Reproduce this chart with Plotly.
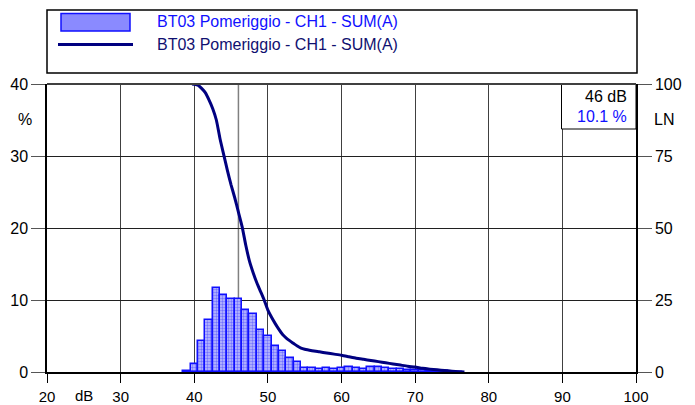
import plotly.graph_objects as go

# ---- data ----
bin_db = [39, 40, 41, 42, 43, 44, 45, 46, 47, 48, 49, 50, 51, 52, 53, 54,
          55, 56, 57, 58, 59, 60, 61, 62, 63, 64, 65, 66, 67, 68, 69, 70,
          71, 72, 73, 74, 75, 76]
bin_pct = [0.1, 1.07, 4.35, 7.2, 11.6, 10.7, 10.2, 10.1, 8.6, 8.0, 5.8, 5.05, 3.6, 2.96, 1.9, 1.4,
           0.6, 0.5, 0.4, 0.5, 0.4, 0.6, 0.75, 0.5, 0.4, 0.65, 0.65, 0.5, 0.35, 0.35, 0.3, 0.3,
           0.25, 0.2, 0.15, 0.1, 0.05, 0.05]

ln_db = [39.7, 40, 40.5, 41, 41.5, 42, 42.5, 43, 43.5, 44, 44.5, 45, 45.5, 46, 46.5, 47,
         47.5, 48, 48.5, 49, 49.5, 50, 50.5, 51, 51.5, 52, 52.5, 53, 53.5, 54, 54.5, 55,
         56, 57, 58, 59, 60, 61, 62, 63, 64, 65, 66, 67, 68, 69, 70, 71, 72, 73, 74, 75, 76, 76.7]
ln_val = [100, 99.9, 99.6, 98.5, 97, 94.5, 91.5, 87.5, 81, 75.5, 70, 65, 60.5, 55.5, 50.5, 44,
          38.5, 34.5, 31, 28, 25, 21.5, 19, 16.8, 14.8, 13, 11.8, 10.8, 9.9, 9.0, 8.3, 7.9,
          7.4, 7.0, 6.6, 6.2, 5.8, 5.3, 4.8, 4.4, 4.0, 3.6, 3.2, 2.8, 2.4, 2.0, 1.7, 1.3, 1.0, 0.75, 0.5, 0.3, 0.1, 0.0]

x_ticks = [20, 30, 40, 50, 60, 70, 80, 90, 100]
y_left_ticks = [0, 10, 20, 30, 40]
y_right_ticks = [0, 25, 50, 75, 100]
series_name = "BT03 Pomeriggio - CH1 - SUM(A)"
cursor_db = 46
cursor_pct = 10.1

# ---- layout geometry (screen pixels; page body adds an 8px offset) ----
OFF = 8
W, H = 695 - OFF, 405 - OFF
L, R, T, B = 47 - OFF, 636 - OFF, 84 - OFF, 372 - OFF
FONT = "Liberation Sans, Arial, sans-serif"
BLUE = "#1010ff"
NAVY = "#000080"


def px(x):
    return (x - OFF - L) / (R - L)


def py(y):
    return (B - (y - OFF)) / (B - T)


fig = go.Figure()

fig.add_trace(go.Bar(
    x=bin_db, y=bin_pct, width=1.0, name=series_name,
    marker=dict(color="#8a8aff", line=dict(color=BLUE, width=1.5),
                pattern=dict(shape=".", fgcolor="#2828ff", bgcolor="#c0c0ff", size=3, solidity=0.5)),
    showlegend=False,
))

fig.add_trace(go.Scatter(
    x=ln_db, y=ln_val, mode="lines", yaxis="y2", name=series_name,
    line=dict(color=NAVY, width=3, shape="spline", smoothing=0.6),
    showlegend=False,
))

shapes = [
    dict(type="line", xref="x", yref="y", x0=cursor_db, x1=cursor_db, y0=0, y1=40,
         line=dict(color="#808080", width=1.5), layer="below"),
    dict(type="rect", xref="paper", yref="paper", x0=px(47), x1=px(637), y0=py(10), y1=py(73),
         line=dict(color="#000000", width=1.5), fillcolor="white"),
    dict(type="rect", xref="paper", yref="paper", x0=px(61), x1=px(130), y0=py(13.5), y1=py(31),
         line=dict(color=BLUE, width=1.5), fillcolor="#8a8aff"),
    dict(type="line", xref="paper", yref="paper", x0=px(58), x1=px(133), y0=py(44.5), y1=py(44.5),
         line=dict(color=NAVY, width=3)),
    dict(type="rect", xref="paper", yref="paper", x0=px(561.5), x1=px(636), y0=py(84), y1=py(129),
         line=dict(color="#000000", width=1), fillcolor="white"),
    dict(type="line", xref="paper", yref="paper", x0=0, x1=1, y0=1, y1=1,
         line=dict(color="#404040", width=2)),
]

annotations = [
    dict(text=series_name, xref="paper", yref="paper", x=px(155), y=py(21), xanchor="left",
         yanchor="middle", showarrow=False, font=dict(family=FONT, size=16, color=BLUE)),
    dict(text=series_name, xref="paper", yref="paper", x=px(155), y=py(44), xanchor="left",
         yanchor="middle", showarrow=False, font=dict(family=FONT, size=16, color="#101070")),
    dict(text=f"{cursor_db} dB", xref="paper", yref="paper", x=px(629), y=py(97), xanchor="right",
         yanchor="middle", showarrow=False, font=dict(family=FONT, size=16, color="#000000")),
    dict(text=f"{cursor_pct} %", xref="paper", yref="paper", x=px(629), y=py(116), xanchor="right",
         yanchor="middle", showarrow=False, font=dict(family=FONT, size=16, color=BLUE)),
    dict(text="%", xref="paper", yref="paper", x=px(25), y=py(119), xanchor="center",
         yanchor="middle", showarrow=False, font=dict(family=FONT, size=16, color="#000000")),
    dict(text="LN", xref="paper", yref="paper", x=px(664), y=py(119), xanchor="center",
         yanchor="middle", showarrow=False, font=dict(family=FONT, size=16, color="#000000")),
    dict(text="dB", xref="paper", yref="paper", x=px(84), y=py(395), xanchor="center",
         yanchor="middle", showarrow=False, font=dict(family=FONT, size=15, color="#000000")),
]

fig.update_layout(
    width=W, height=H,
    margin=dict(l=L, r=W - R, t=T, b=H - B, pad=0, autoexpand=False),
    paper_bgcolor="white", plot_bgcolor="white",
    font=dict(family=FONT, size=16, color="#000000"),
    bargap=0,
    xaxis=dict(range=[20, 100], tickvals=x_ticks, ticks="outside", ticklen=9,
               tickcolor="#000000", showgrid=True, gridcolor="#404040", gridwidth=1,
               showline=True, linecolor="#000000", linewidth=1.5, mirror=False,
               zeroline=False, fixedrange=True, ticklabelstandoff=1, automargin=False,
               tickfont=dict(family=FONT, size=15, color="#000000")),
    yaxis=dict(range=[0, 40], tickvals=y_left_ticks, ticks="outside", ticklen=14,
               tickcolor="#555555", showgrid=True, gridcolor="#202020", gridwidth=1,
               showline=True, linecolor="#000000", linewidth=1.5, zeroline=False,
               fixedrange=True, ticklabelstandoff=0, automargin=False),
    yaxis2=dict(range=[0, 100], tickvals=y_right_ticks, overlaying="y", side="right",
                ticks="outside", ticklen=14, tickcolor="#555555", showgrid=False,
                showline=True, linecolor="#000000", linewidth=1.5, zeroline=False,
                fixedrange=True, ticklabelstandoff=0, automargin=False),
    shapes=shapes,
    annotations=annotations,
    showlegend=False,
)

fig.write_html("out.html")
